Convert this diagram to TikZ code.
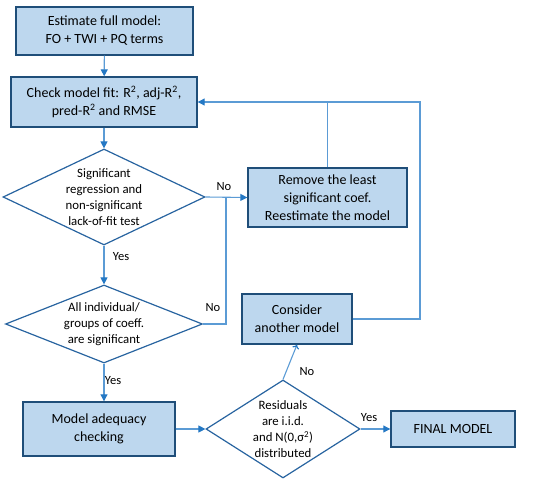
\documentclass[tikz,border=0pt]{standalone}
\usepackage{fontspec}
\setmainfont{Carlito}
\usetikzlibrary{shapes.geometric,arrows.meta}
\definecolor{boxfill}{RGB}{189,215,238}
\definecolor{boxline}{RGB}{31,78,121}
\definecolor{dialine}{RGB}{40,100,160}
\definecolor{flowline}{RGB}{91,155,213}
\definecolor{tipcolor}{RGB}{36,120,196}

\begin{document}
\begin{tikzpicture}[x=1pt,y=-1pt,
  stepbox/.style={rectangle, draw=boxline, fill=boxfill, line width=1.4pt, inner sep=0pt, align=center, font=\fontsize{14}{18}\selectfont},
  decision/.style={diamond, draw=dialine, fill=white, line width=1.2pt, inner sep=0pt},
  dtext/.style={align=center, font=\fontsize{12.8}{16}\selectfont},
  lbl/.style={font=\fontsize{12.5}{14}\selectfont},
  flow/.style={draw=flowline, line width=1.1pt},
  arr/.style={flow, -{Triangle[length=7pt,width=7pt,fill=tipcolor,color=tipcolor]}}]
\useasboundingbox (0,0) rectangle (550,487);
\node[stepbox, minimum width=177pt, minimum height=48pt] (est) at (104.5,31) {Estimate full model:\\FO + TWI + PQ terms};
\node[stepbox, minimum width=186pt, minimum height=50pt] (chk) at (104,102) {Check model fit: R\textsuperscript{2}, adj-R\textsuperscript{2},\\pred-R\textsuperscript{2} and RMSE};
\node[decision, minimum width=202pt, minimum height=96pt] (dsig) at (104,197) {};
\node[dtext] (dsigt) at (dsig) {Significant\\regression and\\non-significant\\lack-of-fit test};
\node[decision, minimum width=197pt, minimum height=78pt] (dind) at (104,324) {};
\node[dtext] (dindt) at (dind) {All individual/\\groups of coeff.\\are significant};
\node[stepbox, minimum width=159pt, minimum height=59pt] (rem) at (327.5,197.5) {Remove the least\\significant coef.\\Reestimate the model};
\node[stepbox, minimum width=110pt, minimum height=50pt] (cons) at (297,319) {Consider\\another model};
\node[stepbox, minimum width=152pt, minimum height=54pt] (adeq) at (99,429) {Model adequacy\\checking};
\node[decision, minimum width=154pt, minimum height=98pt] (dres) at (283,429) {};
\node[dtext] (drest) at (dres) {Residuals\\are i.i.d.\\and N(0,σ\textsuperscript{2})\\distributed};
\node[stepbox, minimum width=124pt, minimum height=36pt] (fin) at (453,429) {FINAL MODEL};
\coordinate (jn) at (226,197);
\coordinate (rt) at (420,102);
\draw[arr] (est) -- (chk);
\draw[arr] (chk) -- (dsig);
\draw[arr] (dsig.east) -- (rem.west);
\draw[arr] (dsig.south) -- (dind.north);
\draw[flow] (dind.east) -| (jn);
\draw[arr] (dind.south) -- (dind.south |- adeq.north);
\draw[flow] (rem.north) -- (rem.north |- rt);
\draw[arr] (cons.east) -| (rt) -- (chk.east);
\draw[flow, -{To[length=4pt,width=7pt,color=tipcolor]}] (dres.north) -- (cons.south);
\draw[arr] (adeq.east) -- (dres.west);
\draw[arr] (dres.east) -- (fin.west);
\node[lbl] (lno1) at (224,187) {No};
\node[lbl] (lyes1) at (121,257) {Yes};
\node[lbl] (lno2) at (213,308) {No};
\node[lbl] (lyes2) at (113,381) {Yes};
\node[lbl] (lno3) at (307,372) {No};
\node[lbl] (lyes3) at (369,418) {Yes};
\end{tikzpicture}
\end{document}
